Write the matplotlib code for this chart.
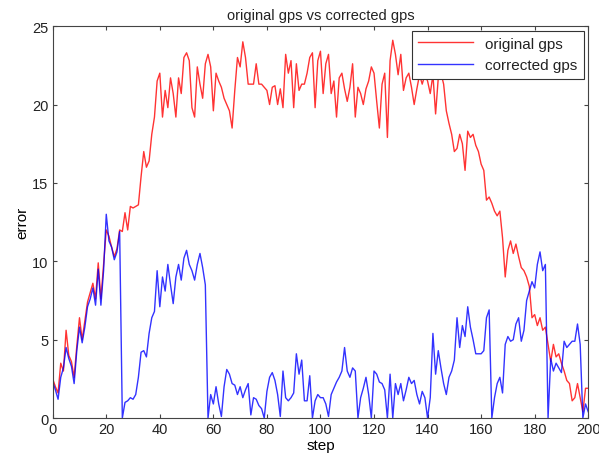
import numpy as np
import matplotlib
matplotlib.use('Agg')
import matplotlib.pyplot as plt

# --- data (one value per step 0..200) ---
steps = np.arange(0, 201)

original_gps = [
    2.5, 2.0, 1.6, 3.5, 3.0, 5.6, 4.0, 3.6, 2.6, 4.6,
    6.4, 5.0, 6.2, 7.4, 8.0, 8.6, 7.6, 9.9, 7.6, 9.8,
    12.0, 11.6, 10.9, 10.3, 10.8, 12.0, 11.9, 13.1, 12.0, 13.5,
    13.4, 13.5, 13.6, 15.4, 17.0, 16.0, 16.4, 18.1, 19.2, 21.5,
    22.0, 19.2, 20.9, 19.8, 21.7, 20.7, 19.2, 21.7, 20.7, 23.0,
    23.3, 22.8, 19.8, 19.2, 22.4, 21.3, 20.4, 22.6, 23.2, 22.4,
    19.6, 22.0, 21.5, 21.1, 20.4, 20.0, 19.6, 18.5, 20.9, 23.0,
    22.4, 24.0, 23.0, 21.3, 21.3, 21.3, 22.6, 21.3, 21.3, 21.1,
    20.9, 20.0, 21.1, 21.2, 20.0, 21.0, 19.8, 23.2, 22.0, 22.8,
    19.8, 22.6, 20.9, 21.3, 21.3, 22.0, 23.0, 23.3, 19.8, 22.8,
    23.4, 20.7, 22.6, 23.2, 20.7, 21.5, 19.2, 21.7, 22.0, 21.0,
    20.2, 21.1, 22.6, 19.2, 21.1, 20.7, 20.0, 21.0, 21.5, 22.4,
    22.0, 20.2, 18.5, 21.3, 22.0, 17.9, 22.8, 24.1, 23.2, 21.9,
    23.2, 20.9, 21.7, 22.0, 21.1, 20.0, 21.0, 21.9, 21.3, 21.9,
    21.5, 20.7, 21.9, 19.4, 21.7, 22.0, 21.3, 19.6, 18.8, 18.1,
    17.0, 17.2, 18.1, 17.5, 15.8, 18.3, 17.9, 18.1, 17.4, 17.0,
    16.2, 15.8, 13.9, 14.1, 13.7, 13.2, 12.9, 13.2, 11.5, 9.0,
    10.7, 11.3, 10.5, 11.1, 10.3, 9.6, 9.4, 9.0, 8.4, 6.4,
    6.6, 5.9, 6.4, 5.6, 5.8, 4.7, 3.6, 4.7, 3.9, 4.1,
    3.5, 3.0, 2.4, 2.2, 1.1, 1.3, 2.2, 1.3, 0.4, 1.9,
    1.9,
]

corrected_gps = [
    2.3, 1.8, 1.2, 2.6, 3.2, 4.5, 3.8, 3.3, 2.2, 4.3,
    5.8, 4.8, 5.8, 7.1, 7.6, 8.3, 7.2, 9.5, 7.2, 9.4,
    13.0, 11.3, 10.9, 10.1, 10.6, 11.9, 0.0, 1.0, 1.1, 1.3,
    1.2, 1.5, 2.6, 4.2, 4.3, 3.9, 5.4, 6.4, 6.8, 9.4,
    7.1, 9.0, 8.1, 9.8, 8.5, 7.3, 9.0, 9.8, 8.8, 10.2,
    10.7, 9.8, 9.4, 8.8, 9.8, 10.5, 9.6, 8.5, 0.0, 1.5,
    0.9, 2.0, 0.9, 0.1, 2.0, 3.1, 2.8, 2.2, 2.1, 1.5,
    2.0, 1.3, 1.8, 2.2, 0.2, 1.3, 1.2, 0.8, 0.6, 0.0,
    1.7, 2.6, 2.9, 2.4, 1.5, 0.1, 3.0, 1.3, 1.1, 1.3,
    1.6, 4.1, 2.8, 3.7, 1.1, 1.1, 2.7, 0.0, 1.1, 1.5,
    1.3, 1.3, 0.9, 0.1, 1.5, 1.9, 2.3, 2.6, 3.0, 4.5,
    3.0, 2.6, 3.2, 3.0, 0.0, 1.3, 1.9, 2.6, 1.5, 0.0,
    3.0, 2.8, 2.3, 2.2, 1.8, 0.0, 2.8, 0.0, 2.2, 1.5,
    2.2, 1.1, 1.8, 2.6, 2.2, 2.4, 1.5, 0.9, 1.7, 1.3,
    0.0, 1.3, 5.4, 2.8, 4.3, 3.2, 2.2, 1.5, 2.6, 3.0,
    3.7, 6.4, 4.5, 5.9, 5.2, 7.1, 5.8, 5.0, 4.1, 4.1,
    4.1, 4.3, 6.4, 6.9, 0.0, 1.3, 2.2, 2.6, 1.6, 4.7,
    5.2, 4.9, 5.0, 6.0, 6.4, 4.9, 5.6, 7.5, 8.1, 8.7,
    8.3, 9.8, 10.6, 9.4, 9.8, 0.0, 3.8, 3.0, 3.5, 3.2,
    2.9, 4.9, 4.5, 4.7, 4.9, 4.9, 6.0, 4.7, 0.0, 0.9,
    0.4,
]

plt.rcParams.update({
    "font.family": ["Liberation Sans", "DejaVu Sans"],
    "font.size": 11,
    "xtick.labelsize": 10.5,
    "ytick.labelsize": 10.5,
    "xtick.direction": "in",
    "ytick.direction": "in",
    "xtick.top": True,
    "ytick.right": True,
    "xtick.major.size": 3,
    "ytick.major.size": 3,
    "axes.linewidth": 0.8,
    "axes.edgecolor": "#444444",
    "text.color": "#222222",
    "xtick.color": "#444444",
    "ytick.color": "#444444",
    "xtick.labelcolor": "#222222",
    "ytick.labelcolor": "#222222",
})

fig = plt.figure(figsize=(5.99, 4.60), dpi=100)
ax = fig.add_axes([0.088, 0.089, 0.894, 0.852])

ax.plot(steps, original_gps, color="red", lw=1.0, alpha=0.8, label="original gps")
ax.plot(steps, corrected_gps, color="blue", lw=1.0, alpha=0.8, label="corrected gps")

ax.set_xlim(0, 200)
ax.set_ylim(0, 25)
ax.set_xticks(range(0, 201, 20))
ax.set_yticks(range(0, 26, 5))
ax.tick_params(pad=3)
ax.set_title("original gps vs corrected gps", fontsize=10.5, pad=5)
ax.set_xlabel("step", labelpad=1)
ax.set_ylabel("error", labelpad=2)

leg = ax.legend(loc="upper right", fancybox=False, framealpha=1,
                edgecolor="#333333", fontsize=11, handlelength=3.6,
                borderaxespad=0.3, labelspacing=0.5)
leg.get_frame().set_linewidth(0.8)

fig.savefig("out.png", dpi=100)
